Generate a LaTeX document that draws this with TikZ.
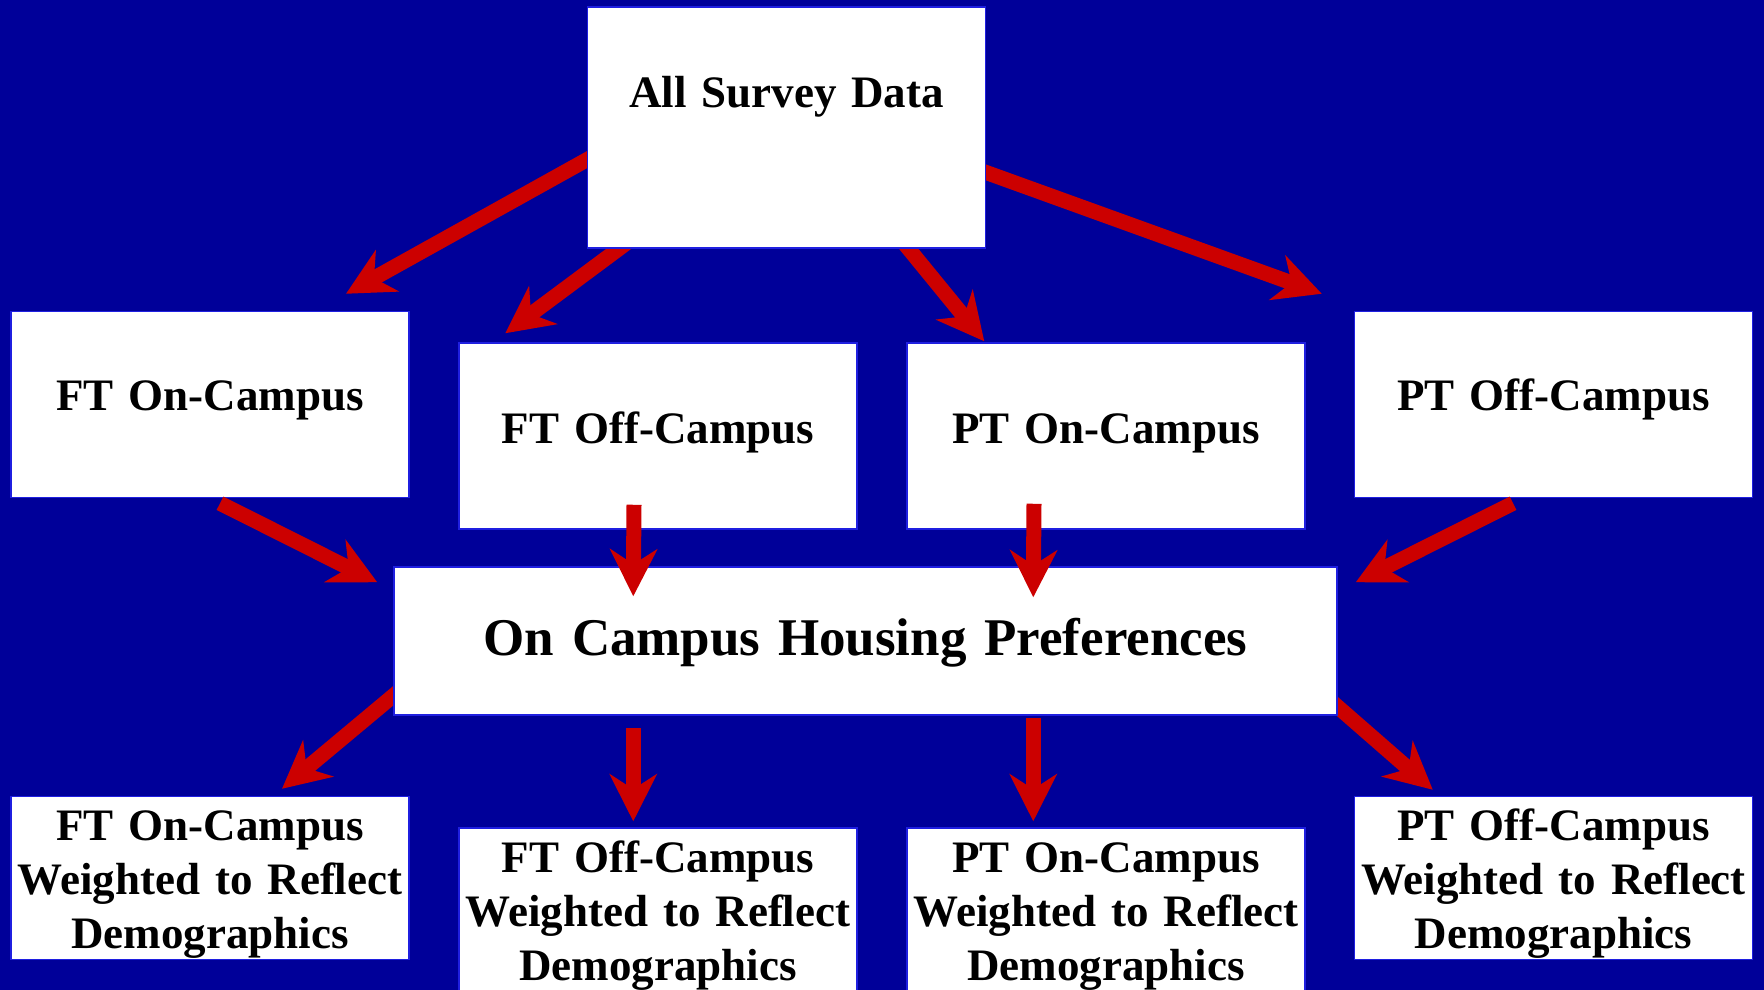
\documentclass[tikz,border=0pt]{standalone}
\usepackage{fontspec}
\setmainfont{Liberation Serif}
\usepackage{xcolor}
\usepackage{tikz}
\usetikzlibrary{arrows.meta, calc, backgrounds}
\definecolor{cfondo}{HTML}{000099}
\definecolor{crojo}{HTML}{CC0000}
\definecolor{cborde}{HTML}{1F1FE0}
\tikzset{
  caja/.style={rectangle, draw=cborde, line width=1.5pt, fill=white, inner sep=0pt,
               text width=398pt, align=center, font=\fontsize{45}{54}\selectfont\bfseries,
               text height=99pt, text depth=87pt},
  cajapeso/.style={caja, text height=44pt, text depth=119pt},
  flecha/.style={-{Stealth[length=47pt, width=47pt, inset=15pt]}, line width=15pt, draw=crojo},
}

\begin{document}
\begin{tikzpicture}[x=1pt, y=-1pt]
        \useasboundingbox (0,0) rectangle (1764,989);
        \begin{scope}[on background layer]
            \fill[cfondo] (-2,-2) rectangle (1766,991);
        \end{scope}

        % top box and the four groups
        \node[caja, text height=100pt, text depth=141pt] (todos) at (786.5,127.5) {All Survey Data};
        \node[caja] (fton)  at (210,404.5)  {FT On-Campus};
        \node[caja, text height=100pt, text depth=86pt] (ftoff) at (658,436) {FT Off-Campus};
        \node[caja, text height=100pt, text depth=86pt] (pton)  at (1106,436) {PT On-Campus};
        \node[caja] (ptoff) at (1553.5,404.5) {PT Off-Campus};

        % middle box
        \node[caja, text width=943pt, text height=88pt, text depth=60pt,
              font=\fontsize{53}{60}\selectfont\bfseries] (pref) at (865.5,641) {On Campus Housing Preferences};

        % weighted results
        \node[cajapeso] (ftonw)  at (210,878)    {FT On-Campus\\Weighted to Reflect\\Demographics};
        \node[cajapeso] (ftoffw) at (658,909.5)  {FT Off-Campus\\Weighted to Reflect\\Demographics};
        \node[cajapeso] (ptonw)  at (1106,909.5) {PT On-Campus\\Weighted to Reflect\\Demographics};
        \node[cajapeso] (ptoffw) at (1553.5,878) {PT Off-Campus\\Weighted to Reflect\\Demographics};

        % arrows that leave from behind a box
        \begin{scope}[on background layer]
            \draw[flecha] ($(todos.west)+(33,13.9)$) -- ($(fton.north)+(136,-17)$);
            \draw[flecha] ($(todos.south west)+(63,-23)$) -- ($(ftoff.north west)+(47,-9)$);
            \draw[flecha] ($(todos.south east)+(-96.4,-23)$) -- ($(pton.north west)+(78,-1)$);
            \draw[flecha] ($(todos.east)+(-36,32)$) -- ($(ptoff.north west)+(-32,-17)$);
            \draw[flecha] ($(pref.south west)+(26,-41.7)$) -- ($(ftonw.north)+(72,-7)$);
            \draw[flecha] ($(pref.south east)+(-27,-32.5)$) -- ($(ptoffw.north west)+(79,-6)$);
        \end{scope}

        \draw[flecha] ($(fton.south)+(10,5)$) -- ($(pref.north west)+(-16,16)$);
        \draw[flecha] ($(ftoff.south)+(-24,-25)$) -- ($(pref.north west)+(240,30)$);
        \draw[flecha] ($(pton.south)+(-72,-26)$) -- ($(pref.north west)+(640,31)$);
        \draw[flecha] ($(ptoff.south)+(-40.5,5)$) -- ($(pref.north east)+(18,16)$);
        \draw[flecha] ($(pref.south west)+(240,12)$) -- ($(ftoffw.north west)+(175,-6)$);
        \draw[flecha] ($(pref.south west)+(640,2)$) -- ($(ptonw.north west)+(127,-6)$);
    \end{tikzpicture}
\end{document}
